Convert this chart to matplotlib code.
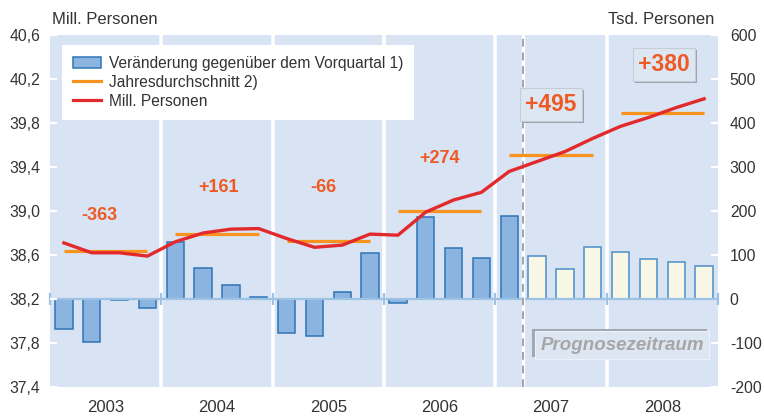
import matplotlib
matplotlib.use("Agg")
import matplotlib.pyplot as plt
import matplotlib.patheffects as pe
from matplotlib.patches import Patch
from matplotlib.lines import Line2D
import numpy as np

plt.rcParams['font.family'] = ['Liberation Sans', 'DejaVu Sans']

# ---------------- data ----------------
years = ['2003', '2004', '2005', '2006', '2007', '2008']
# change vs previous quarter (Tsd. Personen), 24 quarters 2003Q1..2008Q4
change_tsd = [-68, -98, -2, -20,
              130, 70, 32, 5,
              -77, -84, 16, 105,
              -9, 186, 116, 93,
              189, 98, 68, 118,
              107, 91, 84, 75]
n_actual = 17  # quarters with actual data; rest is forecast
# employed persons (Mill. Personen)
employment_mill = [38.71, 38.62, 38.62, 38.59,
                   38.72, 38.80, 38.835, 38.84,
                   38.75, 38.67, 38.69, 38.79,
                   38.78, 38.99, 39.10, 39.17,
                   39.36, 39.45, 39.54, 39.66,
                   39.77, 39.85, 39.94, 40.02]
# annual average (Mill. Personen)
annual_avg_mill = [38.64, 38.79, 38.73, 39.00, 39.51, 39.89]
annual_change_labels = ['-363', '+161', '-66', '+274', '+495', '+380']

left_ticks = [37.4, 37.8, 38.2, 38.6, 39.0, 39.4, 39.8, 40.2, 40.6]
right_ticks = [-200, -100, 0, 100, 200, 300, 400, 500, 600]

# ---------------- style ----------------
BG = '#D8E3F3'
BAR_FILL = '#8BB4E0'
BAR_EDGE = '#2E75B6'
FC_FILL = '#F8F7E6'
FC_EDGE = '#4B8FCB'
RED = '#E2292B'
ORANGE = '#F7931E'
LABEL = '#EE5A24'
ZERO = '#9CC2E5'
TXT = '#333333'

fig = plt.figure(figsize=(7.64, 4.16), dpi=100)
axb = fig.add_axes([50/764, 29/416, 668/764, 352/416])
axl = axb.twinx()

nq = len(change_tsd)
x = np.arange(nq)

axb.set_facecolor(BG)
axb.set_xlim(-0.5, nq - 0.5)
axb.set_ylim(right_ticks[0], right_ticks[-1])
axl.set_ylim(left_ticks[0], left_ticks[-1])

# year separators
for i in range(1, len(years)):
    axb.axvline(i * 4 - 0.5, color='white', lw=2.6, zorder=1)

# bars
axb.bar(x[:n_actual], change_tsd[:n_actual], width=0.62,
        color=BAR_FILL, edgecolor=BAR_EDGE, linewidth=1.1, zorder=3)
axb.bar(x[n_actual:], change_tsd[n_actual:], width=0.62,
        color=FC_FILL, edgecolor=FC_EDGE, linewidth=1.1, zorder=3)

# zero line with year tick marks
axb.axhline(0, color=ZERO, lw=1.6, zorder=4)
bounds = [i * 4 - 0.5 for i in range(len(years) + 1)]
axb.plot(bounds, [0] * len(bounds), ls='none', marker='|', ms=8, mew=1.6,
         color=ZERO, zorder=4, clip_on=False)

# forecast divider
xdiv = n_actual - 0.5
axb.axvline(xdiv, color='white', lw=2.4, zorder=5)
axb.axvline(xdiv, color='#A3A3A3', lw=1.4, ls=(0, (4, 3)), zorder=6)

# lines on left axis
for i, v in enumerate(annual_avg_mill):
    axl.plot([4 * i, 4 * i + 3], [v, v], color=ORANGE, lw=2.3,
             solid_capstyle='butt', zorder=3)
axl.plot(x, employment_mill, color=RED, lw=2.4, zorder=4,
         solid_joinstyle='round')

# annual change labels
label_pos = [(1.26, 38.955), (5.54, 39.21), (9.31, 39.21), (13.51, 39.48),
             (17.5, 39.965), (21.56, 40.33)]
for i, (lab, (px, py)) in enumerate(zip(annual_change_labels, label_pos)):
    if i >= 4:
        t = axl.text(px, py, lab, color=LABEL, fontsize=16.5, fontweight='bold',
                     ha='center', va='center', zorder=6,
                     bbox=dict(boxstyle='square,pad=0.22', fc='#DDE7F3',
                               ec='#C5CCD4', lw=0.8))
        t.get_bbox_patch().set_path_effects(
            [pe.SimplePatchShadow(offset=(1.5, -1.5), shadow_rgbFace='#98A2AD',
                                  alpha=1), pe.Normal()])
    else:
        axl.text(px, py, lab, color=LABEL, fontsize=13, fontweight='bold',
                 ha='center', va='center', zorder=6)

# Prognosezeitraum box
t = axl.text(20.05, 38.2 - 46 / 110, 'Prognosezeitraum', color='#A6A6A6',
             fontsize=13.5, fontweight='bold', fontstyle='italic',
             ha='center', va='center', zorder=6,
             bbox=dict(boxstyle='square,pad=0.3', fc='#DDE6F3', ec='#EEF2F8', lw=0.8))
t.get_bbox_patch().set_path_effects(
    [pe.SimplePatchShadow(offset=(-1.6, 1.6), shadow_rgbFace='#A0A8B0', alpha=1),
     pe.Normal()])

# axes formatting
for a in (axb, axl):
    for s in a.spines.values():
        s.set_visible(False)

axb.yaxis.tick_right()
axl.yaxis.tick_left()
axb.set_yticks(right_ticks)
axb.set_yticklabels([str(v) for v in right_ticks])
axl.set_yticks(left_ticks)
axl.set_yticklabels([f"{v:.1f}".replace('.', ',') for v in left_ticks])
axb.tick_params(axis='y', direction='in', color='white', length=5, width=1.6,
                pad=8.5, labelsize=11.3, labelcolor=TXT)
axl.tick_params(axis='y', direction='in', color='white', length=5, width=1.6,
                pad=7, labelsize=11.3, labelcolor=TXT)
axb.set_xticks([4 * i + 1.5 for i in range(len(years))])
axb.set_xticklabels(years)
axb.tick_params(axis='x', length=0, pad=9, labelsize=12, labelcolor=TXT)

fig.text(52 / 764, 1 - 19 / 416, 'Mill. Personen', fontsize=12, color=TXT,
         ha='left', va='center')
fig.text(714 / 764, 1 - 19 / 416, 'Tsd. Personen', fontsize=12, color=TXT,
         ha='right', va='center')

handles = [Patch(facecolor=BAR_FILL, edgecolor=BAR_EDGE, linewidth=1.1),
           Line2D([], [], color=ORANGE, lw=2.3),
           Line2D([], [], color=RED, lw=2.3)]
labels = ['Veränderung gegenüber dem Vorquartal 1)', 'Jahresdurchschnitt 2)',
          'Mill. Personen']
leg = axl.legend(handles, labels, loc='upper left',
                 bbox_to_anchor=(12 / 668, 1 - 10 / 352), fontsize=11.2,
                 frameon=True, fancybox=False, framealpha=1, edgecolor='none',
                 facecolor='white', handlelength=1.8, handleheight=0.75,
                 handletextpad=0.5, labelspacing=0.25, borderpad=0.7,
                 borderaxespad=0)
for txt in leg.get_texts():
    txt.set_color(TXT)
leg.set_zorder(10)

fig.savefig('out.png', dpi=100)
